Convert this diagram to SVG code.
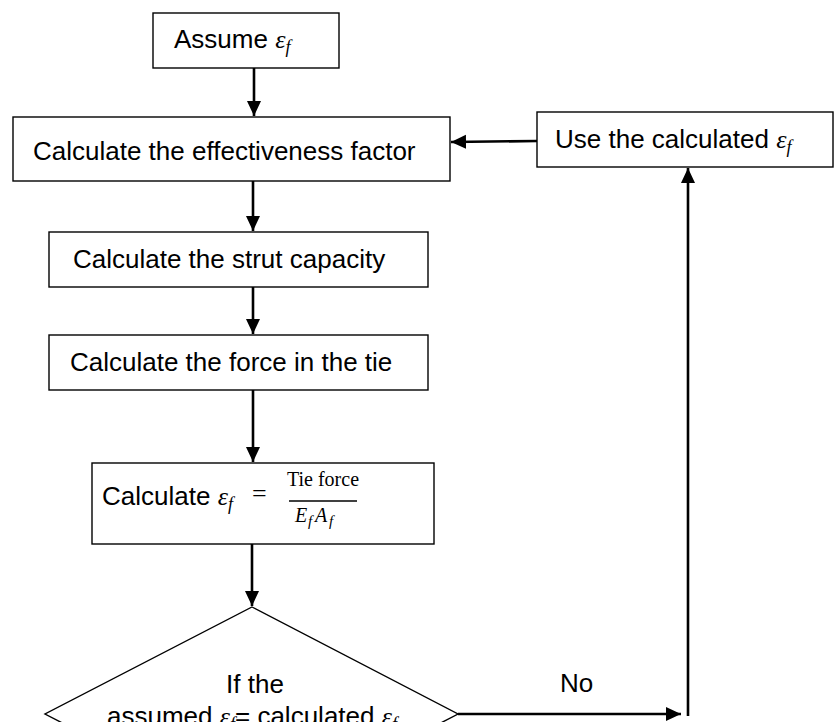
<svg xmlns="http://www.w3.org/2000/svg" width="835" height="722" viewBox="0 0 835 722">
<style>
.box{fill:#fff;stroke:#000;stroke-width:1.4}
.t{font-family:"Liberation Sans",Arial,sans-serif;font-size:26px;fill:#000}
.m{font-family:"Liberation Serif","DejaVu Serif",serif;font-style:italic}
.ms{font-family:"Liberation Serif","DejaVu Serif",serif;font-style:italic;font-size:18px}
.c{fill:none;stroke:#000;stroke-width:2.6}
.f{font-family:"Liberation Serif","DejaVu Serif",serif;font-size:20px;fill:#000}
</style>
<defs>
<marker id="ah" markerUnits="userSpaceOnUse" markerWidth="16" markerHeight="16" viewBox="0 0 16 16" refX="15" refY="8" orient="auto">
<path d="M0,1 L15,8 L0,15 Z" fill="#000"/>
</marker>
</defs>
<rect width="835" height="722" fill="#fff"/>
<g id="connectors">
<line class="c" x1="254" y1="68" x2="254" y2="116" marker-end="url(#ah)"/>
<line class="c" x1="253" y1="181" x2="253" y2="231" marker-end="url(#ah)"/>
<line class="c" x1="253" y1="287" x2="253" y2="334" marker-end="url(#ah)"/>
<line class="c" x1="253" y1="390" x2="253" y2="462" marker-end="url(#ah)"/>
<line class="c" x1="252" y1="544" x2="252" y2="606" marker-end="url(#ah)"/>
<line class="c" x1="458" y1="714" x2="681" y2="714" marker-end="url(#ah)"/>
<line class="c" x1="688" y1="716" x2="688" y2="168" marker-end="url(#ah)"/>
<line class="c" x1="537" y1="141" x2="451" y2="142" marker-end="url(#ah)"/>
<text class="t" x="560" y="692">No</text>
</g>
<g id="assume">
<rect class="box" x="153" y="13" width="186" height="55"/>
<text class="t" x="174" y="48">Assume <tspan class="m">ε</tspan><tspan class="ms" dy="5">f</tspan></text>
</g>
<g id="effectiveness">
<rect class="box" x="13" y="117" width="437" height="64"/>
<text class="t" x="33" y="160">Calculate the effectiveness factor</text>
</g>
<g id="use-calculated">
<rect class="box" x="537" y="112" width="296" height="55"/>
<text class="t" x="555" y="148">Use the calculated <tspan class="m">ε</tspan><tspan class="ms" dy="5">f</tspan></text>
</g>
<g id="strut">
<rect class="box" x="49" y="232" width="379" height="55"/>
<text class="t" x="73" y="268">Calculate the strut capacity</text>
</g>
<g id="force">
<rect class="box" x="49" y="335" width="379" height="55"/>
<text class="t" x="70" y="371">Calculate the force in the tie</text>
</g>
<g id="calc-strain">
<rect class="box" x="92" y="463" width="342" height="81"/>
<text class="t" x="102" y="505">Calculate <tspan class="m">ε</tspan><tspan class="ms" dy="5">f</tspan></text>
<text x="252" y="502" font-family="Liberation Serif,serif" font-size="26">=</text>
<text class="f" x="323" y="486" text-anchor="middle">Tie force</text>
<line x1="289" y1="501" x2="357" y2="501" stroke="#000" stroke-width="1.4"/>
<text class="f" font-style="italic"><tspan x="295" y="522">E</tspan><tspan x="308" y="526" font-size="15">f</tspan><tspan x="315" y="522">A</tspan><tspan x="329" y="526" font-size="15">f</tspan></text>
</g>
<g id="decision">
<polygon class="box" points="252,607 458,714 252,821 45,714"/>
<text class="t" x="255" y="693" text-anchor="middle">If the</text>
<text class="t" x="252" y="725" text-anchor="middle">assumed <tspan class="m">ε</tspan><tspan class="ms" dy="5">f</tspan><tspan dy="-5">= calculated </tspan><tspan class="m">ε</tspan><tspan class="ms" dy="5">f</tspan></text>
</g>
</svg>
